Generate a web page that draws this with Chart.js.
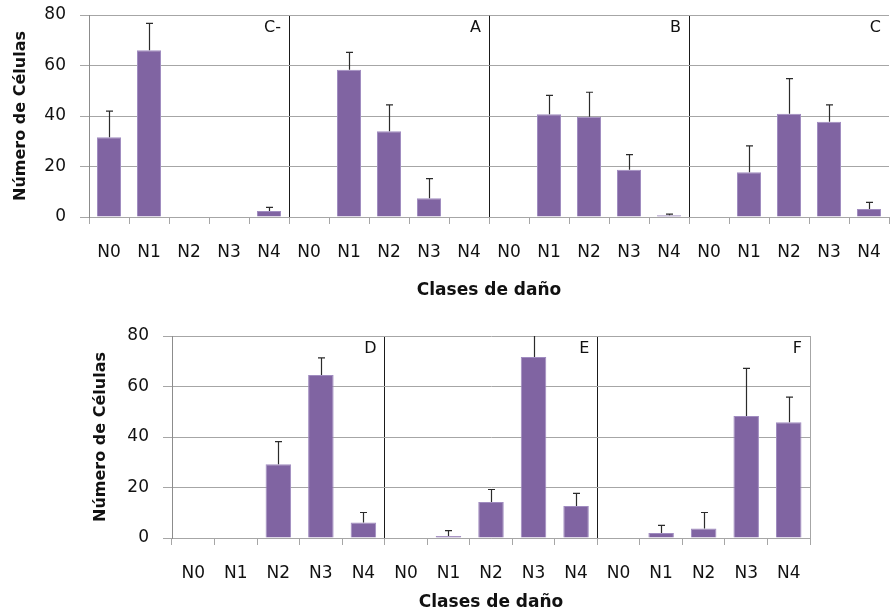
<!DOCTYPE html>
<html>
<head>
<meta charset="utf-8">
<script src="https://cdn.jsdelivr.net/npm/chart.js@4"></script>
<style>
    body { margin: 0; background: #fff; width: 890px; height: 614px; overflow: hidden; position: relative; }
    canvas { position: absolute; left: 0; }
    #topChart { top: 0; }
    #bottomChart { top: 309px; }
</style>
</head>
<body>
<canvas id="topChart" width="890" height="305"></canvas>
<canvas id="bottomChart" width="890" height="305"></canvas>
<script>
// damage classes shown under every panel
var classes = ["N0", "N1", "N2", "N3", "N4"];

// top row: C-, A, B, C
var topGroups = ["C-", "A", "B", "C"];
var topMeans = [
    [31.6, 66.0, 0, 0, 2.4],
    [0, 58.3, 34.0, 7.4, 0],
    [0, 40.7, 39.7, 18.7, 0.7],
    [0, 17.7, 40.9, 37.7, 3.2]
];
var topErrors = [
    [10.3, 10.7, 0, 0, 1.4],
    [0, 6.9, 10.4, 7.8, 0],
    [0, 7.5, 9.7, 6.0, 0.4],
    [0, 10.5, 13.9, 6.7, 2.6]
];

// bottom row: D, E, F
var bottomGroups = ["D", "E", "F"];
var bottomMeans = [
    [0, 0, 29.2, 64.6, 6.1],
    [0, 0.8, 14.3, 71.7, 12.7],
    [0, 2.0, 3.8, 48.3, 45.8]
];
var bottomErrors = [
    [0, 0, 9.0, 6.7, 4.0],
    [0, 2.1, 4.9, 13.0, 5.0],
    [0, 3.0, 6.3, 18.9, 10.0]
];

var yTicks = [0, 20, 40, 60, 80];
var yTitle = "Número de Células";
var xTitle = "Clases de daño";

Chart.defaults.font.family = "'DejaVu Sans', sans-serif";
Chart.defaults.color = "#1a1a1a";

// draws the upper error bars and the panel letters
var extrasPlugin = {
    id: "extras",
    afterDatasetsDraw: function(chart, args, opts) {
        var ctx = chart.ctx;
        var x = chart.scales.x;
        var y = chart.scales.y;
        var area = chart.chartArea;
        var means = chart.data.datasets[0].data;
        var errs = opts.errors;

        ctx.save();
        ctx.beginPath();
        ctx.rect(area.left, area.top, area.right - area.left, area.bottom - area.top);
        ctx.clip();
        ctx.strokeStyle = "#2b2b2b";
        ctx.lineWidth = 1.2;
        for (var i = 0; i < means.length; i++) {
            if (!errs[i]) continue;
            var px = Math.round(x.getPixelForValue(i)) + 0.5;
            var y0 = y.getPixelForValue(means[i]);
            var y1 = y.getPixelForValue(means[i] + errs[i]);
            ctx.beginPath();
            ctx.moveTo(px, y0);
            ctx.lineTo(px, y1);
            ctx.moveTo(px - 3.5, y1);
            ctx.lineTo(px + 3.5, y1);
            ctx.stroke();
        }
        ctx.restore();

        // panel letters, right aligned in each group
        var half = (x.getPixelForValue(1) - x.getPixelForValue(0)) / 2;
        ctx.save();
        ctx.font = "16px 'DejaVu Sans'";
        ctx.fillStyle = "#111";
        ctx.textAlign = "right";
        ctx.textBaseline = "middle";
        for (var g = 0; g < opts.groups.length; g++) {
            var last = g * classes.length + classes.length - 1;
            var right = x.getPixelForValue(last) + half;
            ctx.fillText(opts.groups[g], right - 8, area.top + 13);
        }
        ctx.restore();
    }
};

function makeChart(id, groups, means, errors, cfg) {
    var labels = [];
    groups.forEach(function() { labels = labels.concat(classes); });
    var values = [].concat.apply([], means);
    var errs = [].concat.apply([], errors);
    var n = labels.length;

    return new Chart(document.getElementById(id), {
        type: "bar",
        data: {
            labels: labels,
            datasets: [{
                data: values,
                backgroundColor: "#8064A2",
                borderColor: "#a08cc0",
                borderWidth: 1,
                barPercentage: 0.6,
                categoryPercentage: 1.0
            }]
        },
        options: {
            responsive: false,
            animation: false,
            layout: { padding: { left: cfg.padLeft, right: cfg.padRight, top: cfg.padTop, bottom: 0 } },
            plugins: {
                legend: { display: false },
                tooltip: { enabled: false },
                extras: { errors: errs, groups: groups }
            },
            scales: {
                x: {
                    type: "category",
                    grid: {
                        offset: true,
                        drawTicks: true,
                        tickLength: 7,
                        tickColor: "#a6a6a6",
                        color: function(c) {
                            if (c.index === undefined) return cfg.rightBorder;
                            if (c.index > 0 && c.index < n && c.index % classes.length === 0) return "#1a1a1a";
                            return "rgba(0,0,0,0)";
                        }
                    },
                    border: { color: "#a6a6a6" },
                    ticks: { font: { size: 17 }, padding: 18, color: "#111", maxRotation: 0, autoSkip: false },
                    title: {
                        display: true,
                        text: xTitle,
                        font: { size: 17, weight: "bold" },
                        color: "#111",
                        padding: { top: 0, bottom: cfg.xTitlePad }
                    },
                    afterFit: function(scale) {
                        scale.height = cfg.xHeight;
                        scale.paddingLeft = 0;
                        scale.paddingRight = 0;
                    }
                },
                y: {
                    min: 0,
                    max: 80,
                    afterBuildTicks: function(scale) {
                        scale.ticks = yTicks.map(function(v) { return { value: v }; });
                    },
                    grid: { color: "#a6a6a6", tickLength: 9, tickColor: "#a6a6a6" },
                    border: { color: "#8c8c8c" },
                    ticks: { font: { size: 17 }, padding: 14, color: "#111" },
                    title: {
                        display: true,
                        text: yTitle,
                        font: { size: 16, weight: "bold" },
                        color: "#111",
                        padding: { top: cfg.yTitlePad, bottom: 0 }
                    },
                    afterFit: function(scale) {
                        scale.width = 89;
                        scale.paddingTop = 0;
                        scale.paddingBottom = 0;
                    }
                }
            }
        },
        plugins: [extrasPlugin]
    });
}

makeChart("topChart", topGroups, topMeans, topErrors, {
    padLeft: 0, padRight: 1, padTop: 15, xHeight: 88, xTitlePad: 4, yTitlePad: 11,
    rightBorder: "rgba(0,0,0,0)"
});

makeChart("bottomChart", bottomGroups, bottomMeans, bottomErrors, {
    padLeft: 83, padRight: 80, padTop: 27, xHeight: 76, xTitlePad: 1, yTitlePad: 8,
    rightBorder: "#a6a6a6"
});
</script>
</body>
</html>
